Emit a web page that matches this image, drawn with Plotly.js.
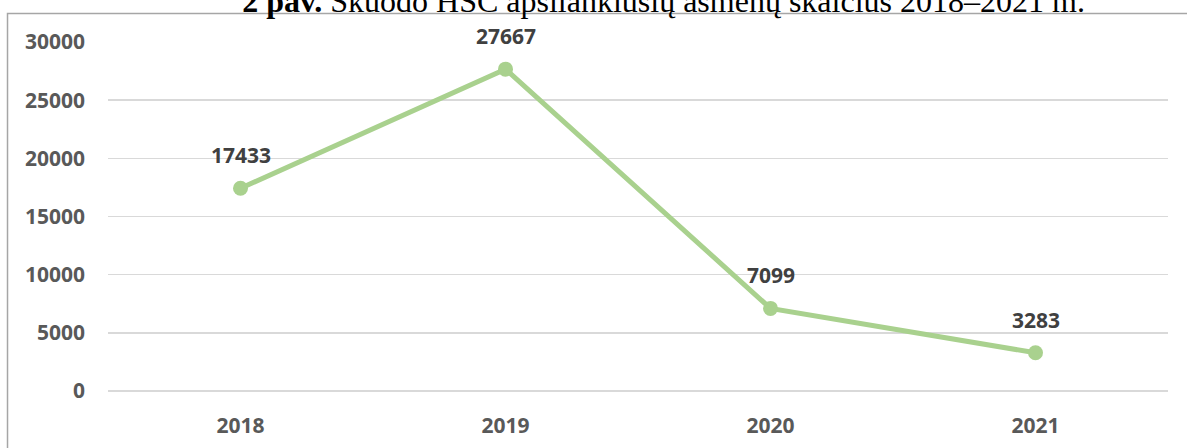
<!DOCTYPE html>
<html>
<head>
<meta charset="utf-8">
<script src="https://cdn.plot.ly/plotly-3.0.1.min.js"></script>
<style>
html, body { margin: 0; padding: 0; background: #fff; overflow: hidden; }
#chart { position: absolute; left: 0; top: -10px; width: 1187px; height: 458px; }
</style>
</head>
<body>
<div id="chart"></div>
<script>
const years = ['2018', '2019', '2020', '2021'];
const visitors = [17433, 27667, 7099, 3283];
const yTicks = [0, 5000, 10000, 15000, 20000, 25000, 30000];
const titleText = '<b>2 pav.</b> Skuodo HSC apsilankiusių asmenų skaičius 2018–2021 m.';

const tickFont = { family: 'Open Sans, sans-serif', size: 21, color: '#595959', weight: 'bold' };

const trace = {
  type: 'scatter',
  mode: 'lines+markers',
  x: years,
  y: visitors,
  line: { color: '#A9D18E', width: 5 },
  marker: { color: '#A9D18E', size: 15 },
  hoverinfo: 'x+y'
};

const annotations = years.map((yr, i) => ({
  x: i,
  y: visitors[i],
  xref: 'x',
  yref: 'y',
  text: '<b>' + visitors[i] + '</b>',
  showarrow: false,
  xanchor: 'center',
  yanchor: 'middle',
  yshift: 33,
  font: { family: 'Open Sans, sans-serif', size: 21, color: '#404040' }
}));

const layout = {
  width: 1187,
  height: 458,
  margin: { l: 108, r: 19, t: 52, b: 57 },
  paper_bgcolor: '#ffffff',
  plot_bgcolor: '#ffffff',
  showlegend: false,
  title: {
    text: titleText,
    font: { family: 'Liberation Serif, Times New Roman, serif', size: 32, color: '#000000' },
    xref: 'container',
    yref: 'container',
    x: 0.559,
    xanchor: 'center',
    y: 1,
    yanchor: 'top',
    pad: { t: 0, b: 0, l: 0, r: 0 },
    automargin: false
  },
  xaxis: {
    type: 'category',
    range: [-0.5, 3.5],
    showgrid: false,
    zeroline: false,
    showline: false,
    ticks: '',
    ticklabelstandoff: 20,
    tickfont: tickFont,
    fixedrange: true
  },
  yaxis: {
    range: [0, 30000],
    tickvals: yTicks,
    ticktext: yTicks.map(String),
    showgrid: true,
    gridcolor: '#d9d9d9',
    gridwidth: 1.5,
    zeroline: true,
    zerolinecolor: '#d9d9d9',
    zerolinewidth: 1.5,
    showline: false,
    ticks: '',
    ticklabelstandoff: 22,
    tickfont: tickFont,
    fixedrange: true
  },
  annotations: annotations,
  shapes: [{
    type: 'rect',
    xref: 'paper',
    yref: 'paper',
    x0: -0.0948,
    x1: 1.03,
    y0: -0.3,
    y1: 1.0817,
    line: { color: '#a6a6a6', width: 1.5 },
    fillcolor: 'rgba(0,0,0,0)',
    layer: 'below'
  }]
};

Plotly.newPlot('chart', [trace], layout, { displayModeBar: false, staticPlot: true });
</script>
</body>
</html>
